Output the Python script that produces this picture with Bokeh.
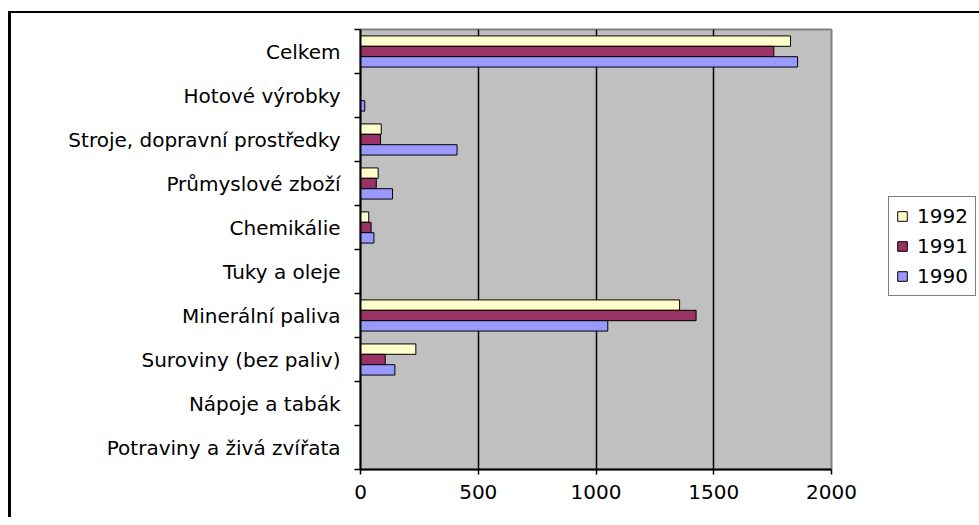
from bokeh.plotting import figure
from bokeh.models import Range1d, FixedTicker, Legend, LegendItem, ColumnDataSource
from bokeh.layouts import column
from bokeh.embed import file_html
from bokeh.resources import INLINE

# Categories listed bottom-to-top
categories = [
    "Potraviny a živá zvířata",
    "Nápoje a tabák",
    "Suroviny (bez paliv)",
    "Minerální paliva",
    "Tuky a oleje",
    "Chemikálie",
    "Průmyslové zboží",
    "Stroje, dopravní prostředky",
    "Hotové výrobky",
    "Celkem",
]
v1990 = [0, 0, 146, 1050, 0, 57, 136, 410, 18, 1856]
v1991 = [0, 0, 105, 1425, 0, 45, 67, 85, 0, 1755]
v1992 = [0, 0, 235, 1355, 0, 35, 75, 88, 0, 1826]
series_names = ["1992", "1991", "1990"]
x_ticks = [0, 500, 1000, 1500, 2000]

colors = {"1992": "#FFFFCC", "1991": "#993366", "1990": "#9999FF"}
values = {"1992": v1992, "1991": v1991, "1990": v1990}
bar_h = 0.236
offsets = {"1992": bar_h, "1991": 0.0, "1990": -bar_h}

FONT = "DejaVu Sans"

p = figure(
    x_range=Range1d(0, 2000), y_range=Range1d(0, len(categories)),
    frame_width=471, frame_height=440,
    min_border_left=349, min_border_right=140, min_border_top=16, min_border_bottom=48,
    output_backend="svg", toolbar_location=None,
    background_fill_color="#C0C0C0", border_fill_color="white",
    outline_line_color="#808080", outline_line_width=2,
)

renderers = {}
for name in series_names:
    vals = values[name]
    ys = [i + 0.5 + offsets[name] for i, v in enumerate(vals) if v > 0]
    rs = [v for v in vals if v > 0]
    src = ColumnDataSource(dict(y=ys, right=rs))
    renderers[name] = p.hbar(y="y", left=0, right="right", height=bar_h, source=src,
                             fill_color=colors[name], line_color="black", line_width=1)

# grid
p.ygrid.visible = False
p.xgrid.ticker = FixedTicker(ticks=x_ticks[1:-1])
p.xgrid.grid_line_color = "black"
p.xgrid.grid_line_width = 1.5

# x axis
xa = p.xaxis[0]
xa.ticker = FixedTicker(ticks=x_ticks)
xa.axis_line_color = "black"
xa.axis_line_width = 2
xa.major_tick_line_color = "black"
xa.major_tick_line_width = 1.5
xa.major_tick_in = 0
xa.major_tick_out = 5
xa.minor_tick_line_color = None
xa.major_label_text_font = FONT
xa.major_label_text_font_size = "20px"
xa.major_label_text_color = "black"
xa.major_label_standoff = 10

# y axis
ya = p.yaxis[0]
ya.ticker = FixedTicker(ticks=[i + 0.5 for i in range(len(categories))],
                        minor_ticks=list(range(len(categories) + 1)))
ya.major_label_overrides = {i + 0.5: c for i, c in enumerate(categories)}
ya.axis_line_color = "black"
ya.axis_line_width = 2
ya.major_tick_in = 0
ya.major_tick_out = 0
ya.major_tick_line_color = None
ya.minor_tick_in = 0
ya.minor_tick_out = 6
ya.minor_tick_line_color = "black"
ya.minor_tick_line_width = 1.5
ya.major_label_text_font = FONT
ya.major_label_text_font_size = "20px"
ya.major_label_text_color = "black"
ya.major_label_standoff = 14

legend = Legend(
    items=[LegendItem(label=n, renderers=[renderers[n]]) for n in series_names],
    location=(57, 173), margin=0, padding=7, spacing=6,
    glyph_width=12, glyph_height=12, label_height=23, label_standoff=9,
    label_text_font=FONT, label_text_font_size="20px", label_text_color="black",
    border_line_color="black", border_line_width=1.5, background_fill_color="white",
)
p.add_layout(legend, "right")

layout = column(p, styles={"border-left": "3px solid black", "border-top": "2px solid black",
                           "margin-top": "11px", "margin-left": "8px"})

open("out.html", "w").write(file_html(layout, INLINE))
